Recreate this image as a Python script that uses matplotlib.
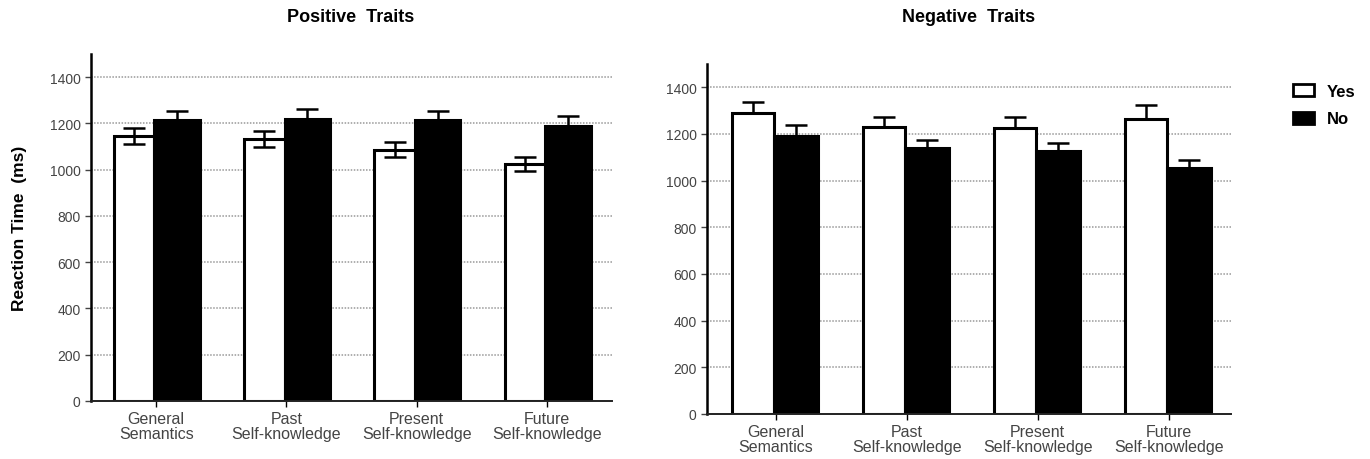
import numpy as np
import matplotlib
matplotlib.use("Agg")
import matplotlib.pyplot as plt
from matplotlib.patches import Patch

plt.rcParams['font.family'] = ['Liberation Sans', 'DejaVu Sans']

categories = ['General\nSemantics', 'Past\nSelf-knowledge', 'Present\nSelf-knowledge', 'Future\nSelf-knowledge']
yticks = [0, 200, 400, 600, 800, 1000, 1200, 1400]

# positive traits (ms)
pos_yes = [1146, 1132, 1087, 1024]
pos_yes_err = [33, 33, 31, 30]
pos_no = [1214, 1220, 1214, 1190]
pos_no_err = [40, 42, 38, 42]

# negative traits (ms)
neg_yes = [1291, 1230, 1225, 1264]
neg_yes_err = [48, 43, 46, 62]
neg_no = [1191, 1142, 1127, 1055]
neg_no_err = [46, 31, 33, 33]

fig = plt.figure(figsize=(13.7, 4.6), dpi=100)
ax1 = fig.add_axes([91 / 1370, 1 - 402 / 460, 521 / 1370, 347 / 460])
ax2 = fig.add_axes([707 / 1370, 1 - 415 / 460, 524 / 1370, 350 / 460])

def draw(ax, yes, yes_err, no, no_err, wy, wn, xlim, both_sides):
    x = np.arange(len(categories))
    for t in yticks[1:]:
        ax.axhline(t, color='#999999', lw=1.1, ls=(0, (1, 1)), zorder=0)
    ax.bar(x - wy / 2, yes, wy, color='white', edgecolor='black', lw=2.2, zorder=2)
    ax.bar(x + wn / 2, no, wn, color='black', edgecolor='black', lw=2.2, zorder=2)
    if both_sides:
        yerr = yes_err
    else:
        yerr = [np.zeros(len(yes)), yes_err]
    ax.errorbar(x - wy / 2, yes, yerr=yerr, fmt='none', ecolor='black',
                elinewidth=1.8, capsize=8, capthick=1.8, zorder=3)
    ax.errorbar(x + wn / 2, no, yerr=[np.zeros(len(no)), no_err], fmt='none',
                ecolor='black', elinewidth=1.8, capsize=8, capthick=1.8, zorder=3)
    ax.set_xlim(*xlim)
    ax.set_ylim(0, 1500)
    ax.set_yticks(yticks)
    ax.set_xticks(x + 0.015)
    ax.set_xticklabels(categories, fontsize=11.5, color='#444444', linespacing=1.05)
    ax.tick_params(axis='y', labelsize=10, colors='#444444', length=4, width=1, direction='out')
    ax.tick_params(axis='x', length=4, width=1, pad=3)
    for s in ['top', 'right']:
        ax.spines[s].set_visible(False)
    ax.spines['left'].set_linewidth(1.8)
    ax.spines['bottom'].set_linewidth(1.4)
    ax.spines['bottom'].set_color('#222222')

draw(ax1, pos_yes, pos_yes_err, pos_no, pos_no_err, 0.31, 0.35, (-0.485, 3.513), True)
draw(ax2, neg_yes, neg_yes_err, neg_no, neg_no_err, 0.32, 0.335, (-0.51, 3.49), False)

ax1.set_ylabel('Reaction Time  (ms)', fontsize=12.5, fontweight='bold', labelpad=16)

fig.text(351 / 1370, 1 - 17 / 460, 'Positive  Traits', ha='center', va='center',
         fontsize=13, fontweight='bold')
fig.text(969 / 1370, 1 - 17 / 460, 'Negative  Traits', ha='center', va='center',
         fontsize=13, fontweight='bold')

handles = [Patch(facecolor='white', edgecolor='black', lw=2),
           Patch(facecolor='black', edgecolor='black', lw=2)]
fig.legend(handles, ['Yes', 'No'], loc='upper left', bbox_to_anchor=(1278 / 1370, 1 - 70 / 460),
           frameon=False, prop={'weight': 'bold', 'size': 12}, handlelength=1.25,
           handleheight=0.75, handletextpad=0.8, labelspacing=0.75)

fig.savefig('out.png', dpi=100)
